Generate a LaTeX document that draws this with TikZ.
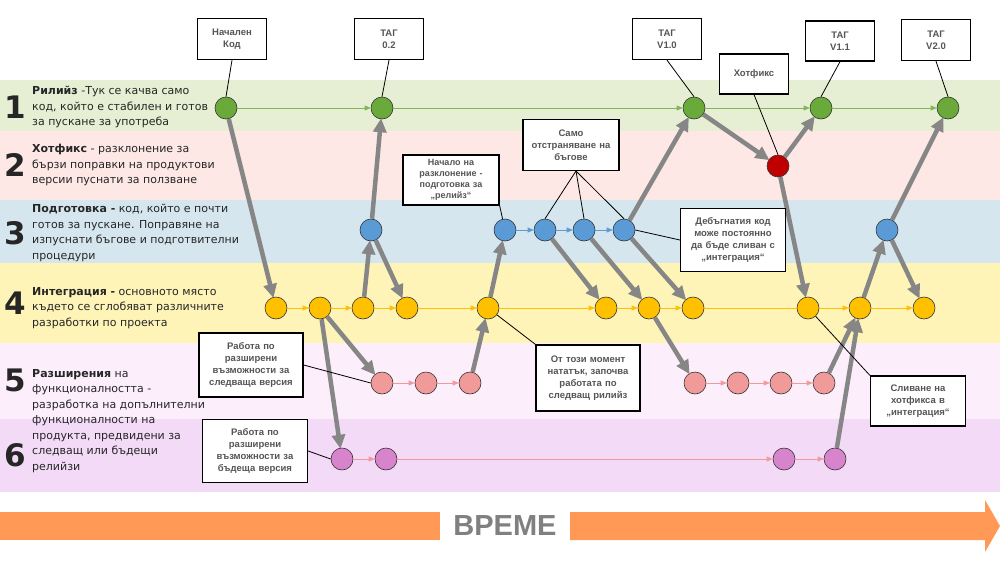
\documentclass[tikz,border=0pt]{standalone}
\usepackage{fontspec}
\setmainfont{DejaVu Sans}
\newfontfamily\boxf{Liberation Sans}
\usetikzlibrary{arrows.meta}
\definecolor{bgA}{HTML}{E6EFD3}\definecolor{bgB}{HTML}{FDE8E6}\definecolor{bgC}{HTML}{D6E6EF}
\definecolor{bgD}{HTML}{FEF4B8}\definecolor{bgE}{HTML}{FDEEFB}\definecolor{bgF}{HTML}{F3DAF7}
\definecolor{cG}{HTML}{6AAA3A}\definecolor{cB}{HTML}{5B9BD5}\definecolor{cY}{HTML}{FFC000}
\definecolor{cP}{HTML}{F09A9A}\definecolor{cM}{HTML}{D884CC}\definecolor{cR}{HTML}{C00000}
\definecolor{orng}{HTML}{FF9955}\definecolor{txtg}{HTML}{555555}
\tikzset{
 dot/.style={circle,draw=black!80,line width=0.6pt,minimum size=22pt,inner sep=0pt},
 big/.style={draw=gray!95,line width=4.5pt,-{Triangle[length=14pt,width=13pt]},shorten >=-1pt},
 thin/.style={line width=0.6pt,-{Triangle[length=6pt,width=5pt]}},
 box/.style={draw=black,line width=1.3pt,fill=white,align=center,font=\boxf\bfseries\fontsize{9.5}{12}\selectfont,text=txtg,inner sep=2pt},
 call/.style={draw=black,line width=0.8pt},
 num/.style={font=\bfseries\fontsize{31}{31}\selectfont,text=black!85,anchor=center},
 lbl/.style={anchor=west,align=left,font=\fontsize{11}{15.5}\selectfont,text=black!85,inner sep=0pt}
}
\begin{document}
\begin{tikzpicture}[x=1pt,y=-1pt]
\useasboundingbox (0,0) rectangle (1000,565);
\fill[bgA] (0,80) rectangle (1000,131);
\fill[bgB] (0,131) rectangle (1000,200);
\fill[bgC] (0,200) rectangle (1000,263);
\fill[bgD] (0,263) rectangle (1000,343);
\fill[bgE] (0,343) rectangle (1000,419);
\fill[bgF] (0,419) rectangle (1000,492);
% labels
\node[num] (n1) at (15,107) {1};
\node[lbl] (l1) at (32,107) {\textbf{Рилийз} -Тук се качва само\\код, който е стабилен и готов\\за пускане за употреба};
\node[num] (n2) at (15,165) {2};
\node[lbl] (l2) at (32,165) {\textbf{Хотфикс} - разклонение за\\бързи поправки на продуктови\\версии пуснати за ползване};
\node[num] (n3) at (15,233) {3};
\node[lbl] (l3) at (32,233) {\textbf{Подготовка -} код, който е почти\\готов за пускане. Поправяне на\\изпуснати бъгове и подготвителни\\процедури};
\node[num] (n4) at (15,303) {4};
\node[lbl] (l4) at (32,308) {\textbf{Интеграция -} основното място\\където се сглобяват различните\\разработки по проекта};
\node[num] (n5) at (15,380) {5};
\node[num] (n6) at (15,455) {6};
\node[lbl] (l5) at (32,421) {\textbf{Разширения} на\\функционалността -\\разработка на допълнителни\\функционалности на\\продукта, предвидени за\\следващ или бъдещи\\релийзи};
% time arrow
\fill[orng] (0,512) rectangle (440,540);
\node[font=\boxf\bfseries\fontsize{29}{29}\selectfont,text=gray] (t) at (505,526) {ВРЕМЕ};
\fill[orng] (570,512) -- (985,512) -- (985,500) -- (1000,526) -- (985,552) -- (985,540) -- (570,540) -- cycle;
% nodes
\foreach \n/\x in {G1/226,G2/382,G3/694,G4/821,G5/948} \node[dot,fill=cG] (\n) at (\x,108) {};
\node[dot,fill=cR] (R) at (778,166) {};
\foreach \n/\x in {B1/371,B2/505,B3/545,B4/584,B5/624,B6/887} \node[dot,fill=cB] (\n) at (\x,230) {};
\foreach \n/\x in {Y1/276,Y2/320,Y3/363,Y4/407,Y5/488,Y6/606,Y7/649,Y8/693,Y9/808,Y10/860,Y11/924} \node[dot,fill=cY] (\n) at (\x,308) {};
\foreach \n/\x in {P1/382,P2/426,P3/470,P4/695,P5/738,P6/781,P7/824} \node[dot,fill=cP] (\n) at (\x,383) {};
\foreach \n/\x in {M1/342,M2/386,M3/784,M4/835} \node[dot,fill=cM] (\n) at (\x,459) {};
% thin arrows
\foreach \a/\b in {G1/G2,G2/G3,G3/G4,G4/G5} \draw[thin,draw=cG!85,fill=cG] (\a)--(\b);
\foreach \a/\b in {B2/B3,B3/B4,B4/B5} \draw[thin,draw=cB,fill=cB] (\a)--(\b);
\foreach \a/\b in {Y1/Y2,Y2/Y3,Y3/Y4,Y4/Y5,Y5/Y6,Y6/Y7,Y7/Y8,Y9/Y10,Y10/Y11} \draw[thin,draw=cY,fill=cY] (\a)--(\b);
\draw[draw=cY,line width=0.6pt] (Y8)--(Y9);
\foreach \a/\b in {P1/P2,P2/P3,P4/P5,P5/P6,P6/P7,M1/M2,M2/M3,M3/M4} \draw[thin,draw=cP,fill=cP] (\a)--(\b);
% big arrows
\foreach \a/\b in {G1/Y1,Y2/M1,Y2/P1,Y3/B1,B1/G2,B1/Y4,P3/Y5,Y5/B2,B3/Y6,B4/Y7,B5/Y8,B5/G3,G3/R,R/G4,R/Y9,Y10/B6,B6/G5,B6/Y11,Y7/P4,P7/Y10,M4/Y10} \draw[big] (\a)--(\b);
% callouts
\node[box,minimum width=69pt,minimum height=41pt] (c1) at (232,39) {Начален\\Код};
\node[box,minimum width=69pt,minimum height=41pt] (c2) at (389,39) {ТАГ\\0.2};
\node[box,minimum width=69pt,minimum height=41pt] (c3) at (667,39) {ТАГ\\V1.0};
\node[box,minimum width=69pt,minimum height=40pt] (c4) at (754,74) {Хотфикс};
\node[box,minimum width=69pt,minimum height=40pt] (c5) at (840,41) {ТАГ\\V1.1};
\node[box,minimum width=69pt,minimum height=41pt] (c6) at (936,40) {ТАГ\\V2.0};
\node[box,text width=92pt,minimum height=50pt,font=\boxf\bfseries\fontsize{9}{11}\selectfont] (c7) at (451,180) {Начало на\\разклонение -\\подготовка за\\„релийз“};
\node[box,text width=92pt,minimum height=51pt] (c8) at (571,145) {Само\\отстраняване на\\бъгове};
\node[box,text width=101pt,minimum height=63pt] (c9) at (733,240) {Дебъгнатия код\\може постоянно\\да бъде сливан с\\„интеграция“};
\node[box,text width=100pt,minimum height=64pt] (c10) at (251,365) {Работа по\\разширени\\възможности за\\следваща версия};
\node[box,text width=101pt,minimum height=63pt] (c11) at (255,451) {Работа по\\разширени\\възможности за\\бъдеща версия};
\node[box,text width=100pt,minimum height=66pt] (c12) at (588,378) {От този момент\\нататък, започва\\работата по\\следващ рилийз};
\node[box,text width=91pt,minimum height=50pt] (c13) at (918,401) {Сливане на\\хотфикса в\\„интеграция“};
\coordinate (c8b) at (576,171);
\draw[call] (c1.south)--(G1.north);
\draw[call] (c2.south)--(G2.north);
\draw[call] (c3.south)--(G3.north);
\draw[call] (c4.south)--(R.north);
\draw[call] (c5.south)--(G4.north);
\draw[call] (c6.south)--(G5.north);
\draw[call] (c7.south east)--(B2);
\draw[call] (c8b)--(B3.north); \draw[call] (c8b)--(B4.north); \draw[call] (c8b)--(B5.north);
\draw[call] (c9.west)--(B5.east);
\draw[call] (c10.east)--(P1.west);
\draw[call] (c11.east)--(M1.west);
\draw[call] (c12.north west)--(Y5);
\draw[call] (c13.north west)--(Y9);
\end{tikzpicture}
\end{document}
